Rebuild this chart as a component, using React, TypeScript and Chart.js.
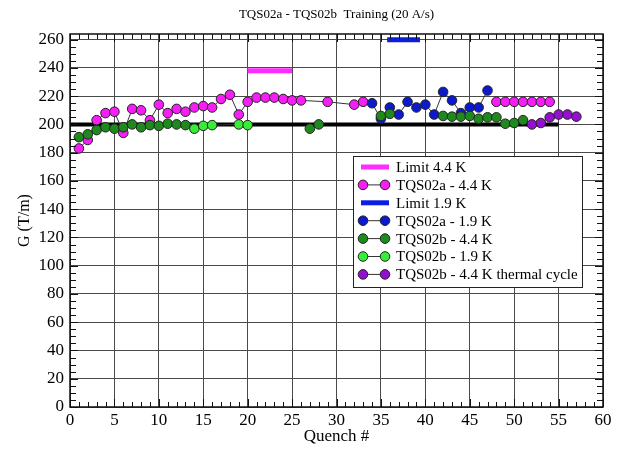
import React, { useEffect, useRef } from 'react';
import { Chart, registerables } from 'chart.js';

Chart.register(...registerables);

const TITLE = 'TQS02a - TQS02b  Training (20 A/s)';
const X_TITLE = 'Quench #';
const Y_TITLE = 'G (T/m)';
const yTickValues = [0, 20, 40, 60, 80, 100, 120, 140, 160, 180, 200, 220, 240, 260];

// Limits
const limit44Q = [20, 25];
const limit44G = [238, 238];
const limit19Q = [35.7, 39.4];
const limit19G = [260, 260];
// Reference line (not in legend)
const refQ = [0, 55];
const refG = [200, 200];

// TQS02a - 4.4 K
const a44Q = [1, 2, 3, 4, 5, 6, 7, 8, 9, 10, 11, 12, 13, 14, 15, 16, 17, 18, 19, 20, 21, 22, 23, 24, 25, 26, 29, 32, 33, 48, 49, 50, 51, 52, 53, 54];
const a44G = [183, 189, 203, 208, 209, 194, 211, 210, 203, 214, 208, 211, 209, 212, 213, 212, 218, 221, 207, 216, 219, 219, 219, 218, 217, 217, 216, 214, 216, 216, 216, 216, 216, 216, 216, 216];
// TQS02a - 1.9 K
const a19Q = [34, 35, 36, 37, 38, 39, 40, 41, 42, 43, 44, 45, 46, 47];
const a19G = [215, 204, 212, 207, 216, 212, 214, 207, 223, 217, 208, 212, 212, 224];
// TQS02b - 4.4 K
const b44Q = [1, 2, 3, 4, 5, 6, 7, 8, 9, 10, 11, 12, 13, 27, 28, 35, 36, 42, 43, 44, 45, 46, 47, 48, 49, 50, 51];
const b44G = [191, 193, 196, 198, 197, 198, 200, 198, 199.5, 199, 200.5, 200, 199.5, 197, 200, 206, 207.5, 206, 205.5, 205.5, 206, 204, 205, 205, 200.5, 201, 203];
// TQS02b - 1.9 K
const b19Q = [14, 15, 16, 19, 20];
const b19G = [197, 199, 199.5, 200, 199.5];
// TQS02b - 4.4 K thermal cycle
const tcQ = [52, 53, 54, 55, 56, 57];
const tcG = [200, 201, 205, 207, 207, 205.5];

const SERIF = '"Liberation Serif", "DejaVu Serif", serif';
const MARKER_R = 4.8;

function toPoints(xs: number[], ys: number[], maxGap = 100) {
  const out: { x: number; y: number | null }[] = [];
  for (let i = 0; i < xs.length; i++) {
    if (i > 0 && xs[i] - xs[i - 1] > maxGap) out.push({ x: (xs[i] + xs[i - 1]) / 2, y: null });
    out.push({ x: xs[i], y: ys[i] });
  }
  return out;
}

function limitSet(label: string, xs: number[], ys: number[], color: string, order: number) {
  return {
    label,
    data: toPoints(xs, ys),
    borderColor: color,
    backgroundColor: color,
    borderWidth: 5,
    pointRadius: 0,
    order,
    kind: 'bar',
  };
}

function markerSet(label: string, xs: number[], ys: number[], color: string, order: number) {
  return {
    label,
    data: toPoints(xs, ys, 4),
    borderColor: '#333',
    borderWidth: 1,
    pointRadius: MARKER_R,
    pointBackgroundColor: color,
    pointBorderColor: '#222',
    pointBorderWidth: 1,
    backgroundColor: color,
    spanGaps: false,
    order,
    kind: 'marker',
  };
}

const framePlugin = {
  id: 'frame',
  afterDatasetsDraw(chart: any) {
    const { ctx, chartArea } = chart;
    const { left, right, top, bottom } = chartArea;
    const xs = chart.scales.x;
    const ys = chart.scales.y;
    ctx.save();
    ctx.strokeStyle = '#111';
    ctx.lineWidth = 1;
    ctx.beginPath();
    for (let v = 0; v <= 60; v += 1) {
      const px = Math.round(xs.getPixelForValue(v)) + 0.5;
      const len = v % 5 === 0 ? 8 : 5;
      ctx.moveTo(px, bottom);
      ctx.lineTo(px, bottom - len);
      ctx.moveTo(px, top);
      ctx.lineTo(px, top + len);
    }
    for (let v = 0; v <= 260; v += 5) {
      const py = Math.round(ys.getPixelForValue(v)) + 0.5;
      const len = v % 20 === 0 ? 8 : 6;
      ctx.moveTo(left, py);
      ctx.lineTo(left + len, py);
      ctx.moveTo(right, py);
      ctx.lineTo(right - len, py);
    }
    ctx.stroke();
    ctx.lineWidth = 1.5;
    ctx.strokeRect(left, top, right - left, bottom - top);
    ctx.restore();
  },
  afterDraw(chart: any) {
    const { ctx, chartArea } = chart;
    const bx = chartArea.left + 283;
    const by = chartArea.top + 122;
    const bw = 229;
    const bh = 131;
    ctx.save();
    ctx.fillStyle = '#fff';
    ctx.fillRect(bx, by, bw, bh);
    ctx.strokeStyle = '#222';
    ctx.lineWidth = 1;
    ctx.strokeRect(bx + 0.5, by + 0.5, bw, bh);
    const items = chart.data.datasets.filter((d: any) => d.label);
    ctx.font = `15px ${SERIF}`;
    ctx.textBaseline = 'middle';
    ctx.textAlign = 'left';
    items.forEach((d: any, i: number) => {
      const cy = by + 11 + i * 17.9;
      if (d.kind === 'bar') {
        ctx.strokeStyle = d.borderColor;
        ctx.lineWidth = 5;
        ctx.beginPath();
        ctx.moveTo(bx + 8, cy);
        ctx.lineTo(bx + 36, cy);
        ctx.stroke();
      } else {
        ctx.strokeStyle = '#333';
        ctx.lineWidth = 1;
        ctx.beginPath();
        ctx.moveTo(bx + 10, cy);
        ctx.lineTo(bx + 32, cy);
        ctx.stroke();
        for (const mx of [bx + 10, bx + 32]) {
          ctx.beginPath();
          ctx.arc(mx, cy, MARKER_R, 0, Math.PI * 2);
          ctx.fillStyle = d.pointBackgroundColor;
          ctx.fill();
          ctx.strokeStyle = '#222';
          ctx.stroke();
        }
      }
      ctx.fillStyle = '#000';
      ctx.fillText(d.label, bx + 43, cy + 1);
    });
    ctx.restore();
  },
};

export default function App() {
  const ref = useRef<HTMLCanvasElement | null>(null);
  useEffect(() => {
    if (!ref.current) return;
    const datasets: any[] = [
      limitSet('Limit 4.4 K', limit44Q, limit44G, '#ff2bff', 7),
      markerSet('TQS02a - 4.4 K', a44Q, a44G, '#f51ef5', 6),
      limitSet('Limit 1.9 K', limit19Q, limit19G, '#0a1ee0', 5),
      markerSet('TQS02a - 1.9 K', a19Q, a19G, '#0a1acc', 4),
      markerSet('TQS02b - 4.4 K', b44Q, b44G, '#1e8a1e', 3),
      markerSet('TQS02b - 1.9 K', b19Q, b19G, '#35ee35', 2),
      markerSet('TQS02b - 4.4 K thermal cycle', tcQ, tcG, '#9410d0', 1),
      {
        label: '',
        data: toPoints(refQ, refG),
        borderColor: '#000',
        borderWidth: 4,
        pointRadius: 0,
        order: 100,
      },
    ];
    const chart = new Chart(ref.current, {
      type: 'line',
      data: { datasets },
      options: {
        animation: false,
        responsive: false,
        devicePixelRatio: 1,
        layout: { padding: { left: 0, right: 21, top: 0, bottom: 0 } },
        plugins: {
          legend: { display: false },
          tooltip: { enabled: false },
          title: {
            display: true,
            text: TITLE,
            fullSize: false,
            color: '#000',
            font: { family: SERIF, size: 13, weight: 'normal' },
            padding: { top: 7, bottom: 11.4 },
          },
        },
        scales: {
          x: {
            type: 'linear',
            min: 0,
            max: 60,
            ticks: {
              stepSize: 5,
              color: '#000',
              font: { family: SERIF, size: 17 },
              padding: 3,
              maxRotation: 0,
              autoSkip: false,
            },
            grid: { color: '#4a4a4a', lineWidth: 1, drawTicks: false },
            border: { display: false },
            title: {
              display: true,
              text: X_TITLE,
              color: '#000',
              font: { family: SERIF, size: 17 },
              padding: { top: 0, bottom: 3 },
            },
            afterFit: (s: any) => {
              s.height = 43;
            },
          },
          y: {
            type: 'linear',
            min: 0,
            max: 264,
            ticks: {
              color: '#000',
              font: { family: SERIF, size: 17 },
              padding: 6,
              autoSkip: false,
            },
            afterBuildTicks: (s: any) => {
              s.ticks = yTickValues.map((v) => ({ value: v }));
            },
            grid: { color: '#4a4a4a', lineWidth: 1, drawTicks: false },
            border: { display: false },
            title: {
              display: true,
              text: Y_TITLE,
              color: '#000',
              font: { family: SERIF, size: 16 },
              padding: { top: 15, bottom: 0 },
            },
            afterFit: (s: any) => {
              s.width = 70;
            },
          },
        },
      } as any,
      plugins: [framePlugin],
    });
    return () => chart.destroy();
  }, []);
  return (
    <div style={{ position: 'fixed', left: 0, top: 0, width: 624, height: 450, background: '#fff' }}>
      <canvas ref={ref} width={624} height={450} style={{ width: 624, height: 450, display: 'block' }} />
    </div>
  );
}
